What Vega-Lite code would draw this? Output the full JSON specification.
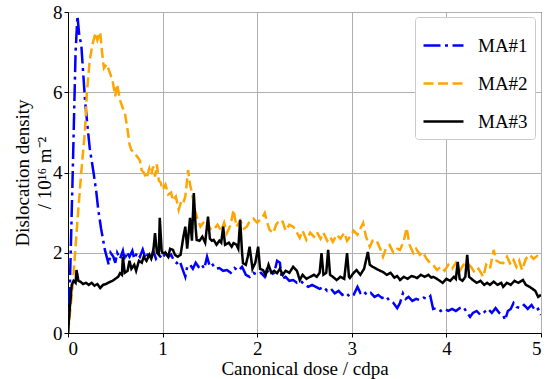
{
"$schema": "https://vega.github.io/schema/vega-lite/v6.json",
"width": 473, "height": 321,
"autosize": {"type": "none"},
"padding": {"left": 68, "top": 12, "right": 10, "bottom": 46},
"background": "white",
"config": {
 "view": {"stroke": "black", "strokeWidth": 1},
 "axis": {"labelColor": "black", "titleColor": "black", "domainColor": "black", "tickColor": "black", "tickSize": 4, "gridColor": "#b0b0b0", "gridWidth": 1}
},
"data": {"values": [
{"s":"MA#1","x":0,"y":0},{"s":"MA#1","x":0.02,"y":1.2},{"s":"MA#1","x":0.05,"y":4},{"s":"MA#1","x":0.08,"y":7.0},{"s":"MA#1","x":0.1,"y":7.9},{"s":"MA#1","x":0.12,"y":7.4},{"s":"MA#1","x":0.14,"y":7.2},{"s":"MA#1","x":0.16,"y":6.5},{"s":"MA#1","x":0.18,"y":5.8},{"s":"MA#1","x":0.2,"y":5.3},{"s":"MA#1","x":0.23,"y":4.6},{"s":"MA#1","x":0.27,"y":4.0},{"s":"MA#1","x":0.3,"y":3.5},{"s":"MA#1","x":0.32,"y":3.07},{"s":"MA#1","x":0.35,"y":2.6},{"s":"MA#1","x":0.39,"y":2.07},{"s":"MA#1","x":0.42,"y":1.8},{"s":"MA#1","x":0.43,"y":1.7},{"s":"MA#1","x":0.45,"y":2.0},{"s":"MA#1","x":0.48,"y":1.9},{"s":"MA#1","x":0.5,"y":1.75},{"s":"MA#1","x":0.52,"y":2.0},{"s":"MA#1","x":0.55,"y":1.85},{"s":"MA#1","x":0.58,"y":2.05},{"s":"MA#1","x":0.6,"y":1.8},{"s":"MA#1","x":0.62,"y":2.02},{"s":"MA#1","x":0.65,"y":1.9},{"s":"MA#1","x":0.68,"y":2.05},{"s":"MA#1","x":0.7,"y":1.85},{"s":"MA#1","x":0.73,"y":2.0},{"s":"MA#1","x":0.76,"y":1.9},{"s":"MA#1","x":0.79,"y":2.08},{"s":"MA#1","x":0.82,"y":1.85},{"s":"MA#1","x":0.85,"y":2.0},{"s":"MA#1","x":0.88,"y":1.9},{"s":"MA#1","x":0.9,"y":2.05},{"s":"MA#1","x":0.93,"y":1.85},{"s":"MA#1","x":0.96,"y":1.95},{"s":"MA#1","x":1.0,"y":1.85},{"s":"MA#1","x":1.03,"y":2.0},{"s":"MA#1","x":1.06,"y":1.9},{"s":"MA#1","x":1.09,"y":1.95},{"s":"MA#1","x":1.12,"y":1.8},{"s":"MA#1","x":1.15,"y":1.74},{"s":"MA#1","x":1.18,"y":1.8},{"s":"MA#1","x":1.21,"y":1.6},{"s":"MA#1","x":1.24,"y":1.4},{"s":"MA#1","x":1.26,"y":1.65},{"s":"MA#1","x":1.29,"y":1.7},{"s":"MA#1","x":1.32,"y":1.6},{"s":"MA#1","x":1.35,"y":1.75},{"s":"MA#1","x":1.38,"y":1.65},{"s":"MA#1","x":1.41,"y":1.72},{"s":"MA#1","x":1.44,"y":1.6},{"s":"MA#1","x":1.47,"y":1.9},{"s":"MA#1","x":1.5,"y":1.65},{"s":"MA#1","x":1.53,"y":1.7},{"s":"MA#1","x":1.56,"y":1.6},{"s":"MA#1","x":1.6,"y":1.62},{"s":"MA#1","x":1.64,"y":1.55},{"s":"MA#1","x":1.68,"y":1.57},{"s":"MA#1","x":1.72,"y":1.5},{"s":"MA#1","x":1.76,"y":1.62},{"s":"MA#1","x":1.8,"y":1.55},{"s":"MA#1","x":1.84,"y":1.65},{"s":"MA#1","x":1.88,"y":1.45},{"s":"MA#1","x":1.92,"y":1.4},{"s":"MA#1","x":1.96,"y":1.5},{"s":"MA#1","x":2.0,"y":1.45},{"s":"MA#1","x":2.04,"y":1.5},{"s":"MA#1","x":2.08,"y":1.4},{"s":"MA#1","x":2.1,"y":1.57},{"s":"MA#1","x":2.14,"y":1.45},{"s":"MA#1","x":2.18,"y":1.5},{"s":"MA#1","x":2.21,"y":1.8},{"s":"MA#1","x":2.24,"y":1.75},{"s":"MA#1","x":2.26,"y":1.35},{"s":"MA#1","x":2.3,"y":1.4},{"s":"MA#1","x":2.34,"y":1.3},{"s":"MA#1","x":2.38,"y":1.32},{"s":"MA#1","x":2.42,"y":1.25},{"s":"MA#1","x":2.46,"y":1.3},{"s":"MA#1","x":2.5,"y":1.2},{"s":"MA#1","x":2.54,"y":1.15},{"s":"MA#1","x":2.58,"y":1.2},{"s":"MA#1","x":2.62,"y":1.15},{"s":"MA#1","x":2.66,"y":1.1},{"s":"MA#1","x":2.7,"y":1.15},{"s":"MA#1","x":2.74,"y":1.05},{"s":"MA#1","x":2.78,"y":1.1},{"s":"MA#1","x":2.82,"y":0.99},{"s":"MA#1","x":2.86,"y":1.05},{"s":"MA#1","x":2.9,"y":0.95},{"s":"MA#1","x":2.94,"y":1.0},{"s":"MA#1","x":2.98,"y":0.9},{"s":"MA#1","x":3.02,"y":0.95},{"s":"MA#1","x":3.06,"y":1.15},{"s":"MA#1","x":3.09,"y":1.0},{"s":"MA#1","x":3.12,"y":1.05},{"s":"MA#1","x":3.16,"y":0.95},{"s":"MA#1","x":3.2,"y":1.0},{"s":"MA#1","x":3.24,"y":0.9},{"s":"MA#1","x":3.28,"y":0.95},{"s":"MA#1","x":3.32,"y":0.87},{"s":"MA#1","x":3.36,"y":0.92},{"s":"MA#1","x":3.4,"y":0.8},{"s":"MA#1","x":3.44,"y":0.75},{"s":"MA#1","x":3.48,"y":0.62},{"s":"MA#1","x":3.51,"y":0.75},{"s":"MA#1","x":3.54,"y":0.99},{"s":"MA#1","x":3.57,"y":0.85},{"s":"MA#1","x":3.6,"y":0.9},{"s":"MA#1","x":3.64,"y":0.8},{"s":"MA#1","x":3.68,"y":0.85},{"s":"MA#1","x":3.72,"y":0.82},{"s":"MA#1","x":3.76,"y":0.88},{"s":"MA#1","x":3.8,"y":0.85},{"s":"MA#1","x":3.83,"y":0.92},{"s":"MA#1","x":3.86,"y":0.6},{"s":"MA#1","x":3.9,"y":0.62},{"s":"MA#1","x":3.94,"y":0.55},{"s":"MA#1","x":3.98,"y":0.6},{"s":"MA#1","x":4.02,"y":0.55},{"s":"MA#1","x":4.06,"y":0.6},{"s":"MA#1","x":4.1,"y":0.55},{"s":"MA#1","x":4.14,"y":0.62},{"s":"MA#1","x":4.18,"y":0.65},{"s":"MA#1","x":4.22,"y":0.5},{"s":"MA#1","x":4.25,"y":0.4},{"s":"MA#1","x":4.28,"y":0.5},{"s":"MA#1","x":4.32,"y":0.55},{"s":"MA#1","x":4.36,"y":0.45},{"s":"MA#1","x":4.4,"y":0.52},{"s":"MA#1","x":4.44,"y":0.6},{"s":"MA#1","x":4.48,"y":0.5},{"s":"MA#1","x":4.52,"y":0.62},{"s":"MA#1","x":4.56,"y":0.5},{"s":"MA#1","x":4.6,"y":0.45},{"s":"MA#1","x":4.62,"y":0.32},{"s":"MA#1","x":4.65,"y":0.55},{"s":"MA#1","x":4.68,"y":0.6},{"s":"MA#1","x":4.71,"y":0.75},{"s":"MA#1","x":4.74,"y":0.65},{"s":"MA#1","x":4.78,"y":0.62},{"s":"MA#1","x":4.82,"y":0.7},{"s":"MA#1","x":4.86,"y":0.6},{"s":"MA#1","x":4.9,"y":0.7},{"s":"MA#1","x":4.94,"y":0.55},{"s":"MA#1","x":4.97,"y":0.6},{"s":"MA#1","x":5.0,"y":0.45},
{"s":"MA#2","x":0,"y":0},{"s":"MA#2","x":0.05,"y":1.2},{"s":"MA#2","x":0.1,"y":2.8},{"s":"MA#2","x":0.14,"y":4.0},{"s":"MA#2","x":0.18,"y":5.06},{"s":"MA#2","x":0.2,"y":6.0},{"s":"MA#2","x":0.23,"y":6.8},{"s":"MA#2","x":0.26,"y":7.2},{"s":"MA#2","x":0.29,"y":7.48},{"s":"MA#2","x":0.31,"y":7.3},{"s":"MA#2","x":0.34,"y":7.5},{"s":"MA#2","x":0.36,"y":7.0},{"s":"MA#2","x":0.38,"y":6.6},{"s":"MA#2","x":0.41,"y":6.7},{"s":"MA#2","x":0.44,"y":6.5},{"s":"MA#2","x":0.47,"y":6.3},{"s":"MA#2","x":0.5,"y":5.9},{"s":"MA#2","x":0.52,"y":6.2},{"s":"MA#2","x":0.55,"y":5.8},{"s":"MA#2","x":0.58,"y":5.6},{"s":"MA#2","x":0.6,"y":5.5},{"s":"MA#2","x":0.63,"y":5.06},{"s":"MA#2","x":0.65,"y":4.7},{"s":"MA#2","x":0.67,"y":4.56},{"s":"MA#2","x":0.7,"y":4.5},{"s":"MA#2","x":0.73,"y":4.4},{"s":"MA#2","x":0.76,"y":4.3},{"s":"MA#2","x":0.78,"y":4.05},{"s":"MA#2","x":0.8,"y":4.0},{"s":"MA#2","x":0.83,"y":3.85},{"s":"MA#2","x":0.86,"y":4.1},{"s":"MA#2","x":0.88,"y":3.95},{"s":"MA#2","x":0.9,"y":4.15},{"s":"MA#2","x":0.92,"y":3.9},{"s":"MA#2","x":0.94,"y":4.2},{"s":"MA#2","x":0.96,"y":3.8},{"s":"MA#2","x":0.98,"y":3.75},{"s":"MA#2","x":1.0,"y":3.57},{"s":"MA#2","x":1.03,"y":3.7},{"s":"MA#2","x":1.06,"y":3.45},{"s":"MA#2","x":1.09,"y":3.5},{"s":"MA#2","x":1.11,"y":3.3},{"s":"MA#2","x":1.14,"y":3.4},{"s":"MA#2","x":1.17,"y":3.07},{"s":"MA#2","x":1.2,"y":3.3},{"s":"MA#2","x":1.22,"y":3.25},{"s":"MA#2","x":1.24,"y":3.4},{"s":"MA#2","x":1.27,"y":4.06},{"s":"MA#2","x":1.29,"y":3.7},{"s":"MA#2","x":1.31,"y":3.5},{"s":"MA#2","x":1.34,"y":3.07},{"s":"MA#2","x":1.37,"y":2.85},{"s":"MA#2","x":1.4,"y":2.65},{"s":"MA#2","x":1.43,"y":2.75},{"s":"MA#2","x":1.47,"y":2.82},{"s":"MA#2","x":1.5,"y":2.6},{"s":"MA#2","x":1.54,"y":2.57},{"s":"MA#2","x":1.58,"y":2.7},{"s":"MA#2","x":1.62,"y":2.55},{"s":"MA#2","x":1.65,"y":2.75},{"s":"MA#2","x":1.68,"y":2.49},{"s":"MA#2","x":1.72,"y":2.7},{"s":"MA#2","x":1.75,"y":3.07},{"s":"MA#2","x":1.78,"y":2.65},{"s":"MA#2","x":1.82,"y":2.8},{"s":"MA#2","x":1.86,"y":2.6},{"s":"MA#2","x":1.89,"y":2.65},{"s":"MA#2","x":1.92,"y":2.78},{"s":"MA#2","x":1.96,"y":2.85},{"s":"MA#2","x":2.0,"y":2.75},{"s":"MA#2","x":2.03,"y":2.82},{"s":"MA#2","x":2.06,"y":2.9},{"s":"MA#2","x":2.08,"y":2.99},{"s":"MA#2","x":2.1,"y":2.8},{"s":"MA#2","x":2.13,"y":2.57},{"s":"MA#2","x":2.17,"y":2.49},{"s":"MA#2","x":2.2,"y":2.7},{"s":"MA#2","x":2.24,"y":2.82},{"s":"MA#2","x":2.27,"y":2.77},{"s":"MA#2","x":2.3,"y":2.55},{"s":"MA#2","x":2.34,"y":2.7},{"s":"MA#2","x":2.38,"y":2.65},{"s":"MA#2","x":2.42,"y":2.5},{"s":"MA#2","x":2.45,"y":2.37},{"s":"MA#2","x":2.48,"y":2.55},{"s":"MA#2","x":2.52,"y":2.32},{"s":"MA#2","x":2.56,"y":2.5},{"s":"MA#2","x":2.6,"y":2.4},{"s":"MA#2","x":2.63,"y":2.52},{"s":"MA#2","x":2.67,"y":2.35},{"s":"MA#2","x":2.7,"y":2.5},{"s":"MA#2","x":2.74,"y":2.3},{"s":"MA#2","x":2.77,"y":2.4},{"s":"MA#2","x":2.8,"y":2.27},{"s":"MA#2","x":2.84,"y":2.45},{"s":"MA#2","x":2.88,"y":2.35},{"s":"MA#2","x":2.92,"y":2.5},{"s":"MA#2","x":2.95,"y":2.3},{"s":"MA#2","x":2.98,"y":2.4},{"s":"MA#2","x":3.02,"y":2.55},{"s":"MA#2","x":3.06,"y":2.45},{"s":"MA#2","x":3.09,"y":2.6},{"s":"MA#2","x":3.12,"y":2.74},{"s":"MA#2","x":3.15,"y":2.4},{"s":"MA#2","x":3.19,"y":2.15},{"s":"MA#2","x":3.22,"y":2.3},{"s":"MA#2","x":3.26,"y":2.32},{"s":"MA#2","x":3.3,"y":2.1},{"s":"MA#2","x":3.33,"y":1.9},{"s":"MA#2","x":3.36,"y":2.1},{"s":"MA#2","x":3.4,"y":2.19},{"s":"MA#2","x":3.44,"y":2.0},{"s":"MA#2","x":3.48,"y":2.1},{"s":"MA#2","x":3.51,"y":2.07},{"s":"MA#2","x":3.55,"y":2.3},{"s":"MA#2","x":3.58,"y":2.62},{"s":"MA#2","x":3.61,"y":2.2},{"s":"MA#2","x":3.65,"y":1.99},{"s":"MA#2","x":3.68,"y":2.1},{"s":"MA#2","x":3.72,"y":1.95},{"s":"MA#2","x":3.75,"y":2.02},{"s":"MA#2","x":3.79,"y":1.85},{"s":"MA#2","x":3.83,"y":1.74},{"s":"MA#2","x":3.86,"y":1.7},{"s":"MA#2","x":3.9,"y":1.57},{"s":"MA#2","x":3.94,"y":1.65},{"s":"MA#2","x":3.98,"y":1.55},{"s":"MA#2","x":4.02,"y":1.7},{"s":"MA#2","x":4.06,"y":1.6},{"s":"MA#2","x":4.1,"y":1.75},{"s":"MA#2","x":4.14,"y":1.55},{"s":"MA#2","x":4.18,"y":1.7},{"s":"MA#2","x":4.22,"y":1.74},{"s":"MA#2","x":4.26,"y":1.65},{"s":"MA#2","x":4.3,"y":1.5},{"s":"MA#2","x":4.34,"y":1.6},{"s":"MA#2","x":4.39,"y":1.4},{"s":"MA#2","x":4.42,"y":1.7},{"s":"MA#2","x":4.46,"y":1.6},{"s":"MA#2","x":4.5,"y":2.07},{"s":"MA#2","x":4.53,"y":1.8},{"s":"MA#2","x":4.57,"y":1.75},{"s":"MA#2","x":4.6,"y":1.74},{"s":"MA#2","x":4.64,"y":1.9},{"s":"MA#2","x":4.68,"y":1.7},{"s":"MA#2","x":4.71,"y":1.82},{"s":"MA#2","x":4.74,"y":1.65},{"s":"MA#2","x":4.77,"y":1.8},{"s":"MA#2","x":4.8,"y":1.57},{"s":"MA#2","x":4.84,"y":1.85},{"s":"MA#2","x":4.88,"y":1.95},{"s":"MA#2","x":4.92,"y":1.85},{"s":"MA#2","x":4.96,"y":1.92},{"s":"MA#2","x":5.0,"y":1.85},
{"s":"MA#3","x":0,"y":0},{"s":"MA#3","x":0.02,"y":0.65},{"s":"MA#3","x":0.04,"y":1.2},{"s":"MA#3","x":0.06,"y":1.3},{"s":"MA#3","x":0.08,"y":1.25},{"s":"MA#3","x":0.09,"y":1.57},{"s":"MA#3","x":0.11,"y":1.3},{"s":"MA#3","x":0.13,"y":1.28},{"s":"MA#3","x":0.16,"y":1.22},{"s":"MA#3","x":0.19,"y":1.25},{"s":"MA#3","x":0.22,"y":1.2},{"s":"MA#3","x":0.25,"y":1.25},{"s":"MA#3","x":0.28,"y":1.18},{"s":"MA#3","x":0.31,"y":1.22},{"s":"MA#3","x":0.34,"y":1.12},{"s":"MA#3","x":0.37,"y":1.2},{"s":"MA#3","x":0.4,"y":1.22},{"s":"MA#3","x":0.44,"y":1.27},{"s":"MA#3","x":0.47,"y":1.3},{"s":"MA#3","x":0.5,"y":1.35},{"s":"MA#3","x":0.53,"y":1.4},{"s":"MA#3","x":0.55,"y":1.49},{"s":"MA#3","x":0.57,"y":1.45},{"s":"MA#3","x":0.58,"y":1.9},{"s":"MA#3","x":0.6,"y":1.5},{"s":"MA#3","x":0.63,"y":1.55},{"s":"MA#3","x":0.65,"y":1.8},{"s":"MA#3","x":0.67,"y":1.6},{"s":"MA#3","x":0.7,"y":1.7},{"s":"MA#3","x":0.72,"y":1.55},{"s":"MA#3","x":0.75,"y":1.8},{"s":"MA#3","x":0.78,"y":1.75},{"s":"MA#3","x":0.8,"y":1.9},{"s":"MA#3","x":0.83,"y":1.8},{"s":"MA#3","x":0.86,"y":1.95},{"s":"MA#3","x":0.88,"y":1.85},{"s":"MA#3","x":0.9,"y":2.0},{"s":"MA#3","x":0.92,"y":2.49},{"s":"MA#3","x":0.94,"y":2.0},{"s":"MA#3","x":0.96,"y":1.95},{"s":"MA#3","x":0.97,"y":2.87},{"s":"MA#3","x":0.99,"y":2.05},{"s":"MA#3","x":1.0,"y":1.99},{"s":"MA#3","x":1.03,"y":2.0},{"s":"MA#3","x":1.06,"y":1.9},{"s":"MA#3","x":1.08,"y":2.1},{"s":"MA#3","x":1.11,"y":2.07},{"s":"MA#3","x":1.13,"y":1.95},{"s":"MA#3","x":1.16,"y":1.9},{"s":"MA#3","x":1.19,"y":1.95},{"s":"MA#3","x":1.22,"y":2.4},{"s":"MA#3","x":1.24,"y":2.65},{"s":"MA#3","x":1.26,"y":2.1},{"s":"MA#3","x":1.29,"y":2.87},{"s":"MA#3","x":1.31,"y":2.3},{"s":"MA#3","x":1.33,"y":3.49},{"s":"MA#3","x":1.35,"y":2.6},{"s":"MA#3","x":1.36,"y":2.32},{"s":"MA#3","x":1.39,"y":2.3},{"s":"MA#3","x":1.42,"y":2.4},{"s":"MA#3","x":1.45,"y":2.25},{"s":"MA#3","x":1.48,"y":2.9},{"s":"MA#3","x":1.5,"y":2.35},{"s":"MA#3","x":1.52,"y":2.3},{"s":"MA#3","x":1.54,"y":2.32},{"s":"MA#3","x":1.57,"y":2.2},{"s":"MA#3","x":1.6,"y":2.3},{"s":"MA#3","x":1.62,"y":2.25},{"s":"MA#3","x":1.64,"y":2.65},{"s":"MA#3","x":1.66,"y":2.2},{"s":"MA#3","x":1.7,"y":2.25},{"s":"MA#3","x":1.73,"y":2.15},{"s":"MA#3","x":1.75,"y":2.24},{"s":"MA#3","x":1.78,"y":2.2},{"s":"MA#3","x":1.8,"y":2.1},{"s":"MA#3","x":1.82,"y":2.82},{"s":"MA#3","x":1.84,"y":2.0},{"s":"MA#3","x":1.85,"y":1.74},{"s":"MA#3","x":1.88,"y":1.7},{"s":"MA#3","x":1.9,"y":1.9},{"s":"MA#3","x":1.92,"y":2.15},{"s":"MA#3","x":1.95,"y":1.6},{"s":"MA#3","x":1.98,"y":1.75},{"s":"MA#3","x":2.01,"y":2.15},{"s":"MA#3","x":2.03,"y":1.6},{"s":"MA#3","x":2.06,"y":1.57},{"s":"MA#3","x":2.09,"y":1.45},{"s":"MA#3","x":2.12,"y":1.7},{"s":"MA#3","x":2.15,"y":1.5},{"s":"MA#3","x":2.18,"y":1.55},{"s":"MA#3","x":2.21,"y":1.49},{"s":"MA#3","x":2.24,"y":1.6},{"s":"MA#3","x":2.27,"y":1.45},{"s":"MA#3","x":2.3,"y":1.55},{"s":"MA#3","x":2.34,"y":1.5},{"s":"MA#3","x":2.38,"y":1.65},{"s":"MA#3","x":2.42,"y":1.55},{"s":"MA#3","x":2.45,"y":1.32},{"s":"MA#3","x":2.48,"y":1.45},{"s":"MA#3","x":2.52,"y":1.35},{"s":"MA#3","x":2.56,"y":1.4},{"s":"MA#3","x":2.6,"y":1.45},{"s":"MA#3","x":2.63,"y":1.4},{"s":"MA#3","x":2.66,"y":1.5},{"s":"MA#3","x":2.68,"y":1.99},{"s":"MA#3","x":2.7,"y":1.45},{"s":"MA#3","x":2.73,"y":1.5},{"s":"MA#3","x":2.75,"y":2.07},{"s":"MA#3","x":2.77,"y":1.45},{"s":"MA#3","x":2.8,"y":1.4},{"s":"MA#3","x":2.84,"y":1.32},{"s":"MA#3","x":2.88,"y":1.4},{"s":"MA#3","x":2.92,"y":1.35},{"s":"MA#3","x":2.95,"y":1.99},{"s":"MA#3","x":2.97,"y":1.4},{"s":"MA#3","x":2.98,"y":1.37},{"s":"MA#3","x":3.02,"y":1.5},{"s":"MA#3","x":3.05,"y":1.57},{"s":"MA#3","x":3.09,"y":1.45},{"s":"MA#3","x":3.13,"y":1.6},{"s":"MA#3","x":3.17,"y":2.02},{"s":"MA#3","x":3.19,"y":1.7},{"s":"MA#3","x":3.22,"y":1.65},{"s":"MA#3","x":3.26,"y":1.6},{"s":"MA#3","x":3.3,"y":1.55},{"s":"MA#3","x":3.33,"y":1.52},{"s":"MA#3","x":3.37,"y":1.45},{"s":"MA#3","x":3.41,"y":1.5},{"s":"MA#3","x":3.45,"y":1.38},{"s":"MA#3","x":3.48,"y":1.42},{"s":"MA#3","x":3.51,"y":1.32},{"s":"MA#3","x":3.55,"y":1.4},{"s":"MA#3","x":3.59,"y":1.35},{"s":"MA#3","x":3.63,"y":1.42},{"s":"MA#3","x":3.66,"y":1.4},{"s":"MA#3","x":3.69,"y":1.37},{"s":"MA#3","x":3.73,"y":1.45},{"s":"MA#3","x":3.77,"y":1.4},{"s":"MA#3","x":3.81,"y":1.45},{"s":"MA#3","x":3.84,"y":1.38},{"s":"MA#3","x":3.86,"y":1.4},{"s":"MA#3","x":3.9,"y":1.35},{"s":"MA#3","x":3.93,"y":1.3},{"s":"MA#3","x":3.96,"y":1.25},{"s":"MA#3","x":4.0,"y":1.35},{"s":"MA#3","x":4.04,"y":1.3},{"s":"MA#3","x":4.08,"y":1.4},{"s":"MA#3","x":4.1,"y":1.35},{"s":"MA#3","x":4.12,"y":1.77},{"s":"MA#3","x":4.14,"y":1.35},{"s":"MA#3","x":4.17,"y":1.3},{"s":"MA#3","x":4.2,"y":1.4},{"s":"MA#3","x":4.22,"y":1.95},{"s":"MA#3","x":4.24,"y":1.4},{"s":"MA#3","x":4.28,"y":1.32},{"s":"MA#3","x":4.32,"y":1.25},{"s":"MA#3","x":4.36,"y":1.3},{"s":"MA#3","x":4.4,"y":1.2},{"s":"MA#3","x":4.43,"y":1.25},{"s":"MA#3","x":4.46,"y":1.2},{"s":"MA#3","x":4.5,"y":1.28},{"s":"MA#3","x":4.54,"y":1.2},{"s":"MA#3","x":4.58,"y":1.25},{"s":"MA#3","x":4.6,"y":1.15},{"s":"MA#3","x":4.64,"y":1.25},{"s":"MA#3","x":4.68,"y":1.2},{"s":"MA#3","x":4.72,"y":1.3},{"s":"MA#3","x":4.76,"y":1.25},{"s":"MA#3","x":4.81,"y":1.32},{"s":"MA#3","x":4.84,"y":1.2},{"s":"MA#3","x":4.88,"y":1.15},{"s":"MA#3","x":4.91,"y":1.1},{"s":"MA#3","x":4.94,"y":1.05},{"s":"MA#3","x":4.97,"y":0.9},{"s":"MA#3","x":5.0,"y":0.95}
]},
"mark": {"type": "line", "strokeWidth": 2.5, "clip": true},
"encoding": {
 "x": {"field": "x", "type": "quantitative", "scale": {"domain": [0, 5], "nice": false, "zero": false}, "axis": {"values": [0,1,2,3,4,5], "title": "Canonical dose / cdpa", "titlePadding": 1, "labelPadding": 2, "labelFont": "Times New Roman", "titleFont": "Times New Roman", "labelFontSize": 19, "titleFontSize": 19, "titleFontWeight": "normal"}},
 "y": {"field": "y", "type": "quantitative", "scale": {"domain": [0, 8], "nice": false}, "axis": {"values": [0,2,4,6,8], "title": ["Dislocation density", "/ 10¹⁶ m⁻²"], "titlePadding": -2, "labelPadding": 2, "titleLineHeight": 22, "labelFont": "Times New Roman", "titleFont": "Times New Roman", "labelFontSize": 19, "titleFontSize": 19, "titleFontWeight": "normal"}},
 "color": {"field": "s", "type": "nominal", "scale": {"domain": ["MA#1","MA#2","MA#3"], "range": ["#0000ff","#ffa500","#000000"]},
  "legend": {"title": null, "orient": "none", "legendX": 347, "legendY": 5, "symbolType": "stroke", "symbolSize": 1600, "symbolStrokeWidth": 2.5, "labelFontSize": 19, "labelFont": "Times New Roman", "labelColor": "black", "fillColor": "white", "strokeColor": "#cccccc", "cornerRadius": 3, "padding": 7, "rowPadding": 6, "labelOffset": 13}},
 "strokeDash": {"field": "s", "type": "nominal", "scale": {"domain": ["MA#1","MA#2","MA#3"], "range": [[17,4.5,3,4.5],[10,4.5],[1,0]]}, "legend": {"title": null}}
}
}
